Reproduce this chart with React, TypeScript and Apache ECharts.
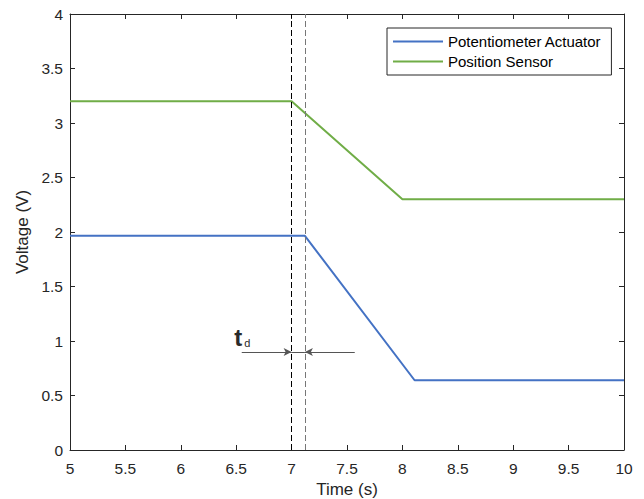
import React, { useEffect, useRef } from "react";
import * as echarts from "echarts";

const potX = [5, 7.12, 8.11, 10];
const potY = [1.965, 1.965, 0.64, 0.64];
const senX = [5, 7.0, 8.0, 10];
const senY = [3.2, 3.2, 2.3, 2.3];
const delayLines = [7.0, 7.12];
const arrowY = 0.9;
const arrowLeftStart = 6.55;
const arrowRightStart = 7.57;
const seriesNames = ["Potentiometer Actuator", "Position Sensor"];

const FONT = "'Liberation Sans', Arial, Helvetica, sans-serif";
const TXT = "#262626";

export default function App() {
  const ref = useRef<HTMLDivElement>(null);
  useEffect(() => {
    const chart = echarts.init(ref.current!, null, { renderer: "svg" });
    const axisCommon = {
      type: "value" as const,
      axisLine: { show: true, onZero: false, lineStyle: { color: TXT, width: 1 } },
      axisTick: { show: true, inside: true, length: 5, lineStyle: { color: TXT } },
      splitLine: { show: false },
    };
    const segStyle = { color: "#555", type: "solid", width: 1 };
    chart.setOption({
      animation: false,
      textStyle: { fontFamily: FONT },
      grid: { left: 70, right: 20, top: 14, bottom: 49, containLabel: false, outerBoundsMode: "none" },
      legend: {
        orient: "vertical",
        left: 387,
        top: 28,
        data: seriesNames,
        icon: "rect",
        itemWidth: 50,
        itemHeight: 2,
        itemGap: 5,
        padding: [6, 10, 6, 6],
        borderColor: "#262626",
        borderWidth: 1,
        backgroundColor: "#fff",
        textStyle: { fontSize: 15, color: "#000", fontFamily: FONT },
      },
      xAxis: [
        {
          ...axisCommon,
          min: 5,
          max: 10,
          interval: 0.5,
          position: "bottom",
          name: "Time (s)",
          nameLocation: "middle",
          nameGap: 30,
          nameTextStyle: { fontSize: 17, color: TXT, fontFamily: FONT },
          axisLabel: { fontSize: 15.5, color: TXT, margin: 10, fontFamily: FONT },
        },
        {
          ...axisCommon,
          min: 5,
          max: 10,
          interval: 0.5,
          position: "top",
          axisLabel: { show: false },
        },
      ],
      yAxis: [
        {
          ...axisCommon,
          min: 0,
          max: 4,
          interval: 0.5,
          position: "left",
          name: "Voltage (V)",
          nameLocation: "middle",
          nameGap: 36,
          nameTextStyle: { fontSize: 17, color: TXT, fontFamily: FONT },
          axisLabel: { fontSize: 15.5, color: TXT, margin: 7, fontFamily: FONT },
        },
        {
          ...axisCommon,
          min: 0,
          max: 4,
          interval: 0.5,
          position: "right",
          axisLabel: { show: false },
        },
      ],
      series: [
        {
          name: seriesNames[0],
          type: "line",
          data: potX.map((x, i) => [x, potY[i]]),
          symbol: "none",
          lineStyle: { color: "#4472C4", width: 2 },
          itemStyle: { color: "#4472C4" },
          z: 3,
        },
        {
          name: seriesNames[1],
          type: "line",
          data: senX.map((x, i) => [x, senY[i]]),
          symbol: "none",
          lineStyle: { color: "#70AD47", width: 2 },
          itemStyle: { color: "#70AD47" },
          z: 3,
          markLine: {
            silent: true,
            symbol: ["none", "none"],
            label: { show: false },
            data: [
              {
                xAxis: delayLines[0],
                lineStyle: { color: "#000", type: [6, 3], width: 1 },
              },
              {
                xAxis: delayLines[1],
                lineStyle: { color: "#777", type: [6, 3], width: 1 },
              },
              [
                { coord: [arrowLeftStart, arrowY], symbol: "none", lineStyle: segStyle },
                { coord: [delayLines[0], arrowY], symbol: "arrow", symbolSize: [6, 8] },
              ],
              [
                { coord: [arrowRightStart, arrowY], symbol: "none", lineStyle: segStyle },
                { coord: [delayLines[1], arrowY], symbol: "arrow", symbolSize: [6, 8] },
              ],
              [
                { coord: [delayLines[0], arrowY], symbol: "none", lineStyle: segStyle },
                { coord: [delayLines[1], arrowY], symbol: "none" },
              ],
            ],
          },
          markPoint: {
            silent: true,
            symbol: "circle",
            symbolSize: 0,
            itemStyle: { color: "#222" },
            data: [
              {
                coord: [6.555, 1.03],
                label: {
                  show: true,
                  color: "#222",
                  formatter: "{t|t}{d|d}",
                  rich: {
                    t: { fontSize: 24, fontWeight: "bold", color: "#2a2a2a", fontFamily: FONT },
                    d: { fontSize: 11, color: "#2a2a2a", fontFamily: FONT, padding: [10, 0, 0, 2] },
                  },
                },
              },
            ],
          },
        },
      ],
    });
    return () => chart.dispose();
  }, []);
  return (
    <div
      ref={ref}
      style={{ position: "fixed", left: 0, top: 0, width: 644, height: 499, background: "#fff" }}
    />
  );
}
